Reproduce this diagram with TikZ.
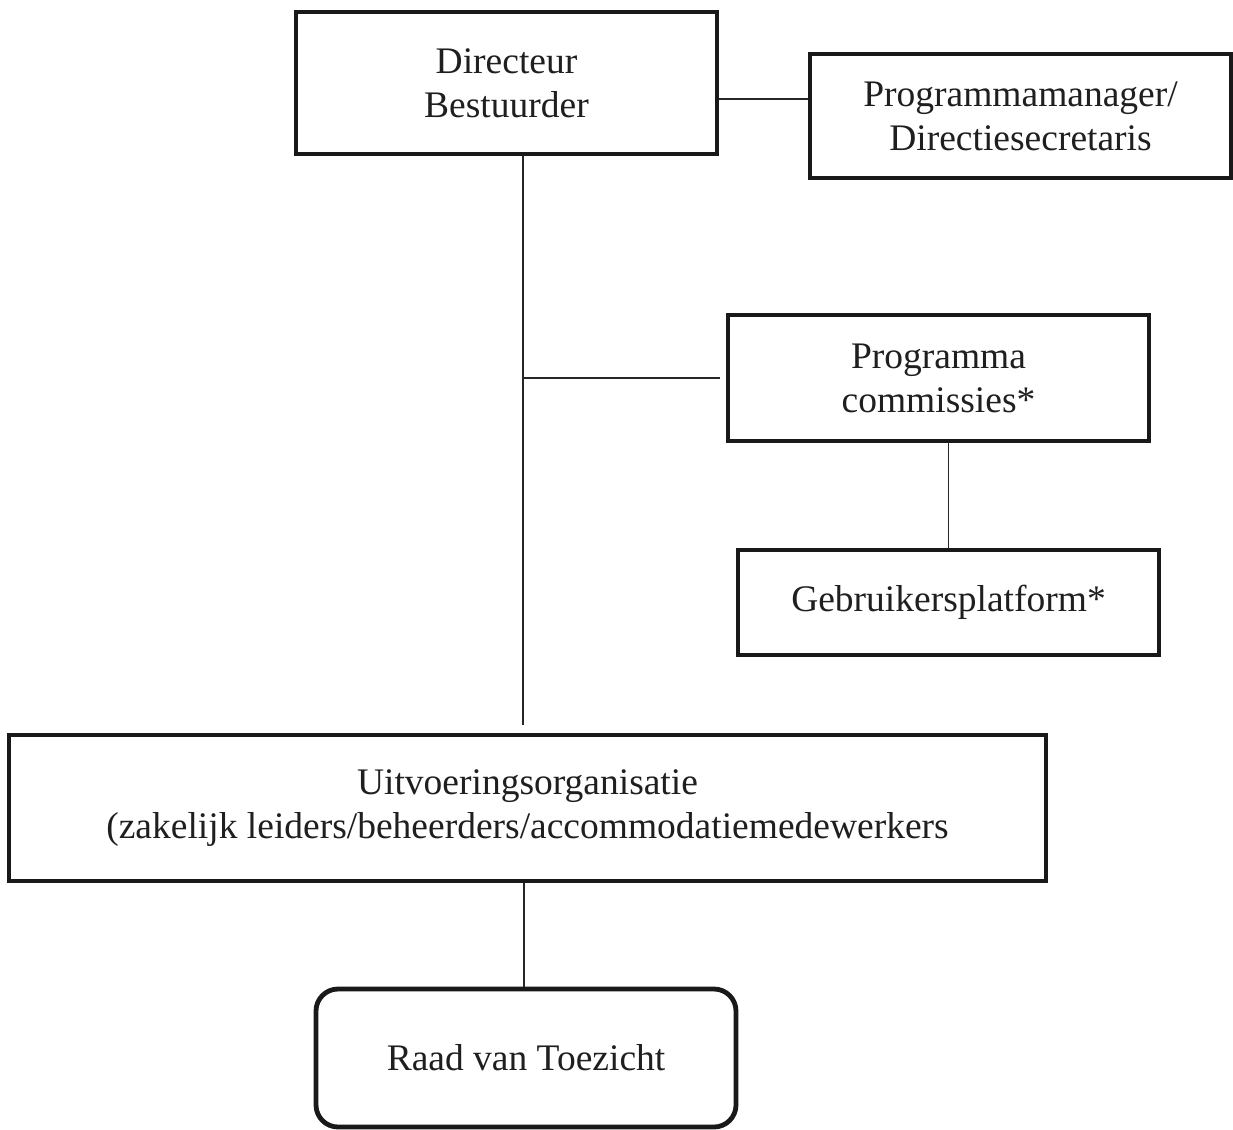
\documentclass[tikz,border=0pt]{standalone}
\usepackage{fontspec}
\setmainfont{Liberation Serif}
\begin{document}
\begin{tikzpicture}[x=1pt,y=-1pt,
  box/.style={draw=black!90,line width=4.8pt,fill=white,align=center,inner sep=0pt,
    font=\fontsize{37.5}{44}\selectfont,text=black!88},
  conn/.style={draw=black!85,line width=1.8pt}]
\useasboundingbox (0,0) rectangle (1233,1129);
\node[box,minimum width=421,minimum height=142] (dir) at (506.5,83) {Directeur\\Bestuurder};
\node[box,minimum width=421,minimum height=124] (pm) at (1020.5,116) {Programmamanager/\\Directiesecretaris};
\node[box,minimum width=421,minimum height=126] (pc) at (938.5,378) {Programma\\commissies*};
\node[box,minimum width=421,minimum height=105] (gp) at (948.5,602.5) {Gebruikersplatform*};
\node[box,minimum width=1037,minimum height=146] (uit) at (527.5,808) {Uitvoeringsorganisatie\\(zakelijk leiders/beheerders/accommodatiemedewerkers};
\node[box,rounded corners=22pt,minimum width=420,minimum height=138] (raad) at (526,1058) {Raad van Toezicht};
\coordinate (j) at (523,378);
\draw[conn] (dir.east |- 0,99) -- (pm.west |- 0,99);
\draw[conn,shorten >=8pt] (dir.south -| j) -- (uit.north -| j);
\draw[conn,shorten >=6pt] (j) -- (pc.west);
\draw[conn] (gp.north |- pc.south) -- (gp.north);
\draw[conn] (uit.south -| 524,0) -- (raad.north -| 524,0);
\end{tikzpicture}
\end{document}
